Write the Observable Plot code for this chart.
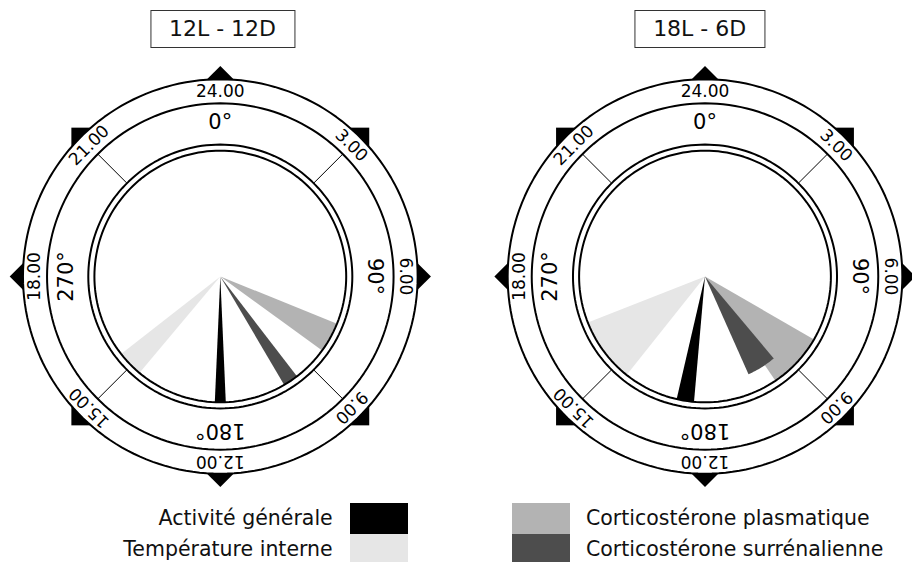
<!DOCTYPE html>
<html>
<head>
<meta charset="utf-8">
<script src="https://cdn.jsdelivr.net/npm/d3@7"></script>
<script src="https://cdn.jsdelivr.net/npm/@observablehq/plot@0.6"></script>
<style>
  body { margin: 0; background: #fff; font-family: "DejaVu Sans", sans-serif; color: #000; }
  #wrap { position: relative; width: 912px; height: 562px; overflow: hidden; background: #fff; }
  #titles { position: relative; width: 912px; height: 56px; }
  .title { position: absolute; top: 10px; height: 38px; box-sizing: border-box; border: 1px solid #333;
           font-size: 22px; line-height: 36px; padding: 0 18px; transform: translateX(-50%); white-space: nowrap; color: #111; }
  #chart svg { display: block; }
  .lg-text { position: absolute; font-size: 20.5px; line-height: 30.7px; white-space: nowrap; color: #111; }
  .lg-swatch { position: absolute; width: 58.3px; height: 30.7px; }
</style>
</head>
<body>
<div id="wrap">
  <div id="titles"></div>
  <div id="chart"></div>
</div>
<script>
// ---------- data ----------
const dials = ["12L - 12D", "18L - 6D"];
const series = ["Activité générale", "Température interne", "Corticostérone plasmatique", "Corticostérone surrénalienne"];
const colors = ["#000000", "#e6e6e6", "#b3b3b3", "#4d4d4d"];
// wedge start / end angles (degrees, clockwise from 0° = 24.00) and relative length
const startL = [177.5, 220, 112, 142.5];
const endL   = [182.5, 232, 126, 149.5];
const lengthL = [1, 1, 1, 1];
const startR = [185, 218.5, 120, 140];
const endR   = [193, 248.5, 146, 156];
const lengthR = [1, 1, 1, 0.85];
const hourLabels = ["24.00", "3.00", "6.00", "9.00", "12.00", "15.00", "18.00", "21.00"];
const hourAngles = [0, 45, 90, 135, 180, 225, 270, 315];
const degreeLabels = ["0°", "90°", "180°", "270°"];
const degreeAngles = [0, 90, 180, 270];
const tickAngles = [45, 135, 225, 315];
const drawOrder = [1, 2, 3, 0];

// ---------- geometry helpers ----------
const R_OUT = 1, R_BAND = 0.878, R_DBL1 = 0.669, R_DBL2 = 0.638, R_HOUR = 0.94, R_DEG = 0.783;
const rad = d => d * Math.PI / 180;
const pt = (r, a) => ({x: r * Math.sin(rad(a)), y: r * Math.cos(rad(a))});
const circle = r => d3.range(0, 361, 2).map(a => pt(r, a));

const wedges = [];
dials.forEach((dial, k) => {
  const st = k ? startR : startL, en = k ? endR : endL, ln = k ? lengthR : lengthL;
  drawOrder.forEach(i => {
    const r = ln[i] * R_DBL2;
    const id = dial + "|" + i;
    wedges.push({dial, series: series[i], id, x: 0, y: 0});
    const n = 16;
    for (let j = 0; j <= n; j++) {
      const a = st[i] + (en[i] - st[i]) * j / n;
      wedges.push({dial, series: series[i], id, ...pt(r, a)});
    }
  });
});

const hours = hourLabels.map((t, i) => ({t, a: hourAngles[i], ...pt(R_HOUR, hourAngles[i])}));
const degs = degreeLabels.map((t, i) => ({t, a: degreeAngles[i], ...pt(R_DEG, degreeAngles[i])}));
const marks = hourAngles.map(a => ({a, ...pt(R_OUT, a)}));

// ---------- titles ----------
const titleCenters = [222.5, 699.7];
const titlesDiv = document.getElementById("titles");
dials.forEach((d, i) => {
  const s = document.createElement("div");
  s.className = "title";
  s.style.left = titleCenters[i] + "px";
  s.textContent = d;
  titlesDiv.appendChild(s);
});

// ---------- plot ----------
const ringStyle = {x: "x", y: "y", stroke: "black", strokeWidth: 2, fill: "none"};
const plot = Plot.plot({
  width: 912, height: 433,
  marginTop: 7, marginBottom: 0, marginLeft: 12.6, marginRight: 0.3,
  fx: {domain: dials, paddingInner: 0.145, paddingOuter: 0, round: false, axis: null},
  x: {domain: [-1.05, 1.05], axis: null},
  y: {domain: [-1.08, 1.08], axis: null},
  color: {domain: series, range: colors},
  style: {fontFamily: "DejaVu Sans", background: "transparent", color: "black"},
  marks: [
    Plot.dot(marks, {x: "x", y: "y", symbol: "square", r: 10.6, rotate: d => d.a + 45, fill: "black", stroke: "none"}),
    Plot.line(circle(R_OUT), {...ringStyle, fill: "white"}),
    Plot.line(circle(R_BAND), ringStyle),
    Plot.link(tickAngles, {
      x1: a => pt(R_DBL1, a).x, y1: a => pt(R_DBL1, a).y,
      x2: a => pt(R_BAND, a).x, y2: a => pt(R_BAND, a).y,
      stroke: "black", strokeWidth: 1
    }),
    Plot.line(wedges, {x: "x", y: "y", z: "id", fill: "series", stroke: "none", fx: "dial"}),
    Plot.line(circle(R_DBL1), ringStyle),
    Plot.line(circle(R_DBL2), ringStyle),
    Plot.text(hours, {x: "x", y: "y", text: "t", rotate: "a", fontSize: 17, fill: "black"}),
    Plot.text(degs, {x: "x", y: "y", text: "t", rotate: "a", fontSize: 21, fill: "black"})
  ]
});
document.getElementById("chart").appendChild(plot);

// ---------- legend ----------
const wrap = document.getElementById("wrap");
const rowTops = [503.3, 534];
series.forEach((s, i) => {
  const row = i % 2, right = i >= 2;
  const sw = document.createElement("div");
  sw.className = "lg-swatch";
  sw.style.background = colors[i];
  sw.style.top = rowTops[row] + "px";
  sw.style.left = (right ? 511.7 : 350) + "px";
  wrap.appendChild(sw);
  const tx = document.createElement("div");
  tx.className = "lg-text";
  tx.textContent = s;
  tx.style.top = rowTops[row] + "px";
  if (right) tx.style.left = "586px"; else tx.style.right = (912 - 332.7) + "px";
  wrap.appendChild(tx);
});
</script>
</body>
</html>
